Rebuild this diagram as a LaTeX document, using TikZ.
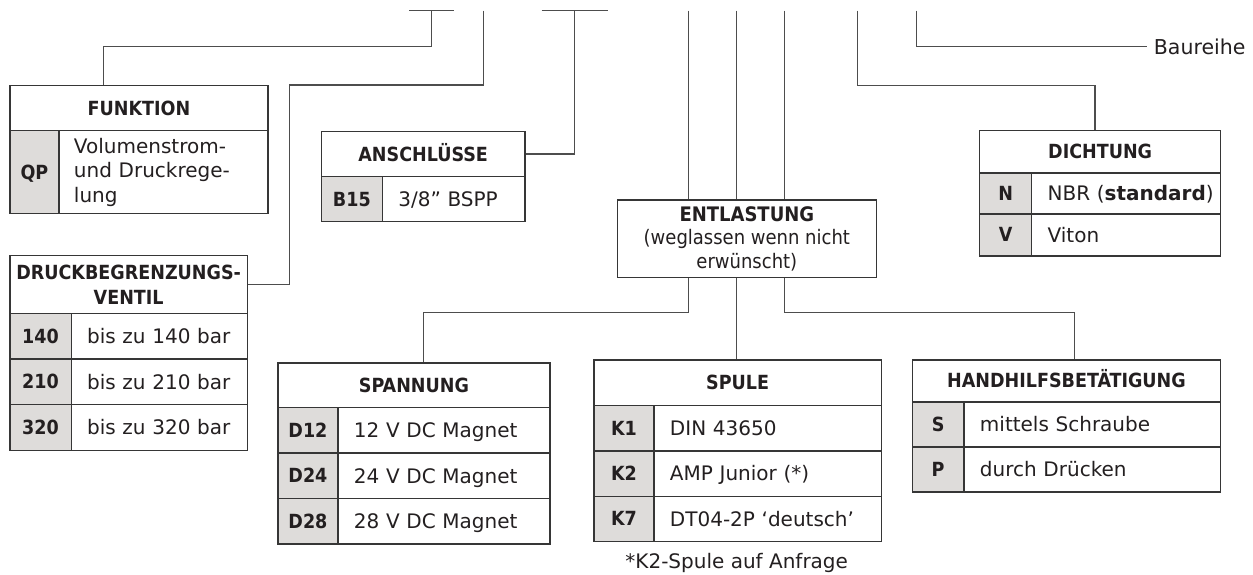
\documentclass[tikz,border=0pt]{standalone}
\usepackage{fontspec}
\setmainfont{DejaVu Sans}
\newfontfamily\cfont{DejaVu Sans Condensed}[BoldFont={DejaVu Sans Condensed Bold}]
\usetikzlibrary{calc}
\definecolor{ink}{HTML}{231F20}
\definecolor{edge}{HTML}{363636}
\definecolor{wire}{HTML}{4D4D4D}
\definecolor{codebg}{HTML}{DEDCDA}
\tikzset{
  cell/.style={draw=edge, line width=1.3pt, rectangle, inner sep=0pt, anchor=north west, text=ink},
  hdr/.style={cell, font=\cfont\bfseries\fontsize{19.5}{25}\selectfont, text height=14pt, text depth=0pt},
  hdrtwo/.style={cell, font=\cfont\bfseries\fontsize{19.5}{25}\selectfont, align=center},
  code/.style={cell, fill=codebg, font=\cfont\bfseries\fontsize{19.5}{24}\selectfont, text height=14pt, text depth=0pt},
  desc/.style={cell, minimum width=#1, text width=#1, font=\fontsize{20}{24.5}\selectfont, align=left, inner xsep=0pt, text height=14.6pt, text depth=0pt, execute at begin node={\hspace*{16pt}}},
  descm/.style={cell, font=\fontsize{20}{24.5}\selectfont, align=left, inner xsep=15pt},
  wire/.style={draw=wire, line width=1.25pt},
  plain/.style={inner sep=0pt, text=ink, font=\fontsize{20}{24}\selectfont}
}
\begin{document}
\begin{tikzpicture}[x=1pt,y=-1pt]
\useasboundingbox (0,0) rectangle (1253,574);

% ---------- FUNKTION
\node[hdr, minimum width=258pt, minimum height=45.3pt] (fkth) at (9.3,84.7) {FUNKTION};
\node[code, minimum width=49pt, minimum height=83pt] (fktc) at (9.3,130) {QP};
\node[descm, minimum width=209pt, minimum height=83pt, text width=179pt] (fktd) at (58.3,130) {Volumenstrom-\\und Druckrege-\\lung};

% ---------- ANSCHLUESSE
\node[hdr, minimum width=203.6pt, minimum height=45.3pt] (ansh) at (320.7,130.7) {ANSCHLÜSSE};
\node[code, minimum width=61pt, minimum height=44.7pt] (ansc) at (320.7,176) {B15};
\node[desc=142.6pt, minimum height=44.7pt] (ansd) at (381.7,176) {3/8” BSPP};

% ---------- DRUCKBEGRENZUNGSVENTIL
\node[hdrtwo, minimum width=237.4pt, minimum height=57.7pt] (dbvh) at (9.3,255) {DRUCKBEGRENZUNGS-\\VENTIL};
\node[code, minimum width=61.2pt, minimum height=45.6pt] (dbvc1) at (9.3,312.7) {140};
\node[desc=176.2pt, minimum height=45.6pt] (dbvd1) at (70.5,312.7) {bis zu 140 bar};
\node[code, minimum width=61.2pt, minimum height=45.6pt] (dbvc2) at (9.3,358.3) {210};
\node[desc=176.2pt, minimum height=45.6pt] (dbvd2) at (70.5,358.3) {bis zu 210 bar};
\node[code, minimum width=61.2pt, minimum height=45.6pt] (dbvc3) at (9.3,403.9) {320};
\node[desc=176.2pt, minimum height=45.6pt] (dbvd3) at (70.5,403.9) {bis zu 320 bar};

% ---------- ENTLASTUNG
\node[cell, minimum width=259pt, minimum height=77.4pt, align=center, font=\cfont\fontsize{20}{23.5}\selectfont] (ent) at (616.7,199.3) {\textbf{ENTLASTUNG}\\(weglassen wenn nicht\\erwünscht)};

% ---------- DICHTUNG
\node[hdr, minimum width=241pt, minimum height=42.3pt] (dich) at (979,130) {DICHTUNG};
\node[code, minimum width=52pt, minimum height=41pt] (dicc1) at (979,172.3) {N};
\node[desc=189pt, minimum height=41pt] (dicd1) at (1031,172.3) {NBR (\textbf{standard})};
\node[code, minimum width=52pt, minimum height=42pt] (dicc2) at (979,213.3) {V};
\node[desc=189pt, minimum height=42pt] (dicd2) at (1031,213.3) {Viton};

% ---------- SPANNUNG
\node[hdr, minimum width=272pt, minimum height=44.7pt] (spah) at (277.3,362.3) {SPANNUNG};
\node[code, minimum width=60pt, minimum height=45.4pt] (spac1) at (277.3,407) {D12};
\node[desc=212pt, minimum height=45.4pt] (spad1) at (337.3,407) {12 V DC Magnet};
\node[code, minimum width=60pt, minimum height=45.4pt] (spac2) at (277.3,452.4) {D24};
\node[desc=212pt, minimum height=45.4pt] (spad2) at (337.3,452.4) {24 V DC Magnet};
\node[code, minimum width=60pt, minimum height=45.4pt] (spac3) at (277.3,497.8) {D28};
\node[desc=212pt, minimum height=45.4pt] (spad3) at (337.3,497.8) {28 V DC Magnet};

% ---------- SPULE
\node[hdr, minimum width=287.4pt, minimum height=45.7pt] (spuh) at (593.3,359.3) {SPULE};
\node[code, minimum width=60pt, minimum height=45.3pt] (spuc1) at (593.3,405) {K1};
\node[desc=227.4pt, minimum height=45.3pt] (spud1) at (653.3,405) {DIN 43650};
\node[code, minimum width=60pt, minimum height=45.3pt] (spuc2) at (593.3,450.3) {K2};
\node[desc=227.4pt, minimum height=45.3pt] (spud2) at (653.3,450.3) {AMP Junior (*)};
\node[code, minimum width=60pt, minimum height=45.3pt] (spuc3) at (593.3,495.6) {K7};
\node[desc=227.4pt, minimum height=45.3pt] (spud3) at (653.3,495.6) {DT04-2P ‘deutsch’};
\node[plain] (fn) at (736.7,562.7) {*K2-Spule auf Anfrage};

% ---------- HANDHILFSBETAETIGUNG
\node[hdr, minimum width=308.3pt, minimum height=42pt] (hhbh) at (911.7,359.3) {HANDHILFSBETÄTIGUNG};
\node[code, minimum width=51.6pt, minimum height=45pt] (hhbc1) at (911.7,401.3) {S};
\node[desc=256.7pt, minimum height=45pt] (hhbd1) at (963.3,401.3) {mittels Schraube};
\node[code, minimum width=51.6pt, minimum height=45pt] (hhbc2) at (911.7,446.3) {P};
\node[desc=256.7pt, minimum height=45pt] (hhbd2) at (963.3,446.3) {durch Drücken};

% ---------- Baureihe
\node[plain, anchor=west, inner xsep=7pt, font=\fontsize{20.5}{24}\selectfont] (bau) at (1146.7,46.7) {Baureihe};

% ---------- connectors
\coordinate (t1l) at (409.3,10.7);
\coordinate (t1r) at (454,10.7);
\coordinate (t1m) at (431.7,10.7);
\coordinate (t2) at (483.3,10.7);
\coordinate (t3l) at (541.7,10.7);
\coordinate (t3r) at (607.7,10.7);
\coordinate (t3m) at (574.3,10.7);
\coordinate (t4) at (688.7,10.7);
\coordinate (t5) at (736.7,10.7);
\coordinate (t6) at (784.7,10.7);
\coordinate (t7) at (857.7,10.7);
\coordinate (t8) at (916.7,10.7);

\draw[wire] (t1l) -- (t1r);
\draw[wire] (t1m) -- ++(0,36) -| ([xshift=94pt]fkth.north west);
\draw[wire] (t2) -- ++(0,74.3) -| ([xshift=41.6pt]dbvh.east) -- (dbvh.east);
\draw[wire] (t3l) -- (t3r);
\draw[wire] (t3m) |- (ansh.east);
\draw[wire] (t4) -- (t4 |- ent.north);
\draw[wire] (t5) -- (t5 |- ent.north);
\draw[wire] (t6) -- (t6 |- ent.north);
\draw[wire] (t7) -- ++(0,75) -| ([xshift=116pt]dich.north west);
\draw[wire] (t8) |- (bau.west);
\draw[wire] (t4 |- ent.south) -- ++(0,34.3) -| ([xshift=146pt]spah.north west);
\draw[wire] (t5 |- ent.south) -- (t5 |- spuh.north);
\draw[wire] (t6 |- ent.south) -- ++(0,34.3) -| ([xshift=162.6pt]hhbh.north west);
\end{tikzpicture}
\end{document}
